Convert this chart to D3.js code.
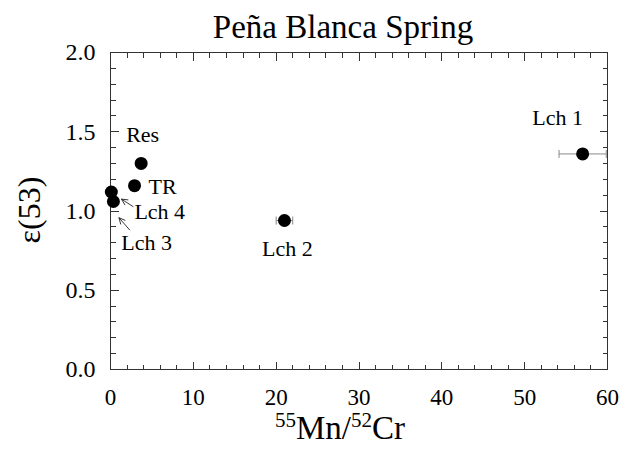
<!DOCTYPE html>
<html>
<head>
<meta charset="utf-8">
<title>Peña Blanca Spring</title>
<script src="https://d3js.org/d3.v7.min.js"></script>
<style>
  body { margin: 0; background: #fff; }
  text { font-family: "Liberation Serif", "Times New Roman", serif; fill: #000; }
  .tick { shape-rendering: crispEdges; }
</style>
</head>
<body>
<svg width="621" height="453"></svg>
<script>

// samples
var names  = ["Lch 3", "Lch 4", "TR", "Res", "Lch 2", "Lch 1"];
var mnCr   = [0.1, 0.35, 2.9, 3.7, 21.0, 57.0];
var eps53  = [1.12, 1.06, 1.16, 1.30, 0.94, 1.36];
var mnCrErr = [0, 0, 0, 0, 1.0, 2.85];

var xTicks = [0, 10, 20, 30, 40, 50, 60];
var yTicks = [0.0, 0.5, 1.0, 1.5, 2.0];

// label placement relative to each point (px)
var labelPos = [
  {dx: 10, dy: 58, anchor: "start", arrow: [18.6, 38.3, 7.6, 25.7]},
  {dx: 21, dy: 18, anchor: "start", arrow: [20, 5.3, 8, -2.4]},
  {dx: 14, dy: 8, anchor: "start"},
  {dx: -15, dy: -21.5, anchor: "start"},
  {dx: 3, dy: 35, anchor: "middle"},
  {dx: -25, dy: -29, anchor: "middle"}
];

var svg = d3.select("svg"),
    margin = {top: 52, right: 14, bottom: 84, left: 110},
    width = +svg.attr("width") - margin.left - margin.right,
    height = +svg.attr("height") - margin.top - margin.bottom;

var x = d3.scaleLinear().domain([0, 60]).range([0, width]);
var y = d3.scaleLinear().domain([0, 2]).range([height, 0]);

var g = svg.append("g")
    .attr("transform", "translate(" + (margin.left + 0.5) + "," + (margin.top + 0.5) + ")");

var axisColor = "#333";

// frame
g.append("rect")
    .attr("class", "tick")
    .attr("width", width)
    .attr("height", height)
    .attr("fill", "none")
    .attr("stroke", axisColor)
    .attr("stroke-width", 1);

// inward ticks on all four sides
var xMinor = d3.range(0, 61, 2), yMinor = d3.range(0, 2.001, 0.1);
function tickLen(v, step) { return Math.abs(v / step - Math.round(v / step)) < 1e-6 ? 8 : 5; }

var ticks = g.append("g")
    .attr("class", "tick")
    .attr("stroke", axisColor)
    .attr("stroke-width", 1);

ticks.selectAll(".xb").data(xMinor).enter().append("line")
    .attr("class", "xb")
    .attr("x1", function(d) { return Math.round(x(d)); }).attr("x2", function(d) { return Math.round(x(d)); })
    .attr("y1", height).attr("y2", function(d) { return height - tickLen(d, 10); });
ticks.selectAll(".xt").data(xMinor).enter().append("line")
    .attr("class", "xt")
    .attr("x1", function(d) { return Math.round(x(d)); }).attr("x2", function(d) { return Math.round(x(d)); })
    .attr("y1", 0).attr("y2", function(d) { return tickLen(d, 10); });
ticks.selectAll(".yl").data(yMinor).enter().append("line")
    .attr("class", "yl")
    .attr("y1", function(d) { return Math.round(y(d)); }).attr("y2", function(d) { return Math.round(y(d)); })
    .attr("x1", 0).attr("x2", function(d) { return tickLen(d, 0.5); });
ticks.selectAll(".yr").data(yMinor).enter().append("line")
    .attr("class", "yr")
    .attr("y1", function(d) { return Math.round(y(d)); }).attr("y2", function(d) { return Math.round(y(d)); })
    .attr("x1", width).attr("x2", function(d) { return width - tickLen(d, 0.5); });

// tick labels
g.append("g").selectAll("text").data(xTicks).enter().append("text")
    .attr("x", function(d) { return x(d); })
    .attr("y", height + 35)
    .attr("text-anchor", "middle")
    .attr("font-size", 23)
    .text(function(d) { return d; });
g.append("g").selectAll("text").data(yTicks).enter().append("text")
    .attr("x", -15)
    .attr("y", function(d) { return y(d); })
    .attr("dy", "0.33em")
    .attr("text-anchor", "end")
    .attr("font-size", 24)
    .text(function(d) { return d.toFixed(1); });

// title and axis titles
svg.append("text")
    .attr("x", 343)
    .attr("y", 38)
    .attr("text-anchor", "middle")
    .attr("font-size", 33)
    .text("Peña Blanca Spring");

var xl = svg.append("text")
    .attr("x", 340)
    .attr("y", 439)
    .attr("text-anchor", "middle")
    .attr("font-size", 33);
xl.append("tspan").attr("font-size", 21).attr("dy", -12).text("55");
xl.append("tspan").attr("dy", 12).text("Mn/");
xl.append("tspan").attr("font-size", 21).attr("dy", -12).text("52");
xl.append("tspan").attr("dy", 12).text("Cr");

svg.append("text")
    .attr("transform", "translate(40,210) rotate(-90)")
    .attr("text-anchor", "middle")
    .attr("font-size", 32)
    .text("ε(53)");

// error bars
var errColor = "#888";
var pts = names.map(function(n, i) {
  return {name: n, x: mnCr[i], y: eps53[i], err: mnCrErr[i], lab: labelPos[i]};
});
var eb = g.append("g").selectAll("g").data(pts.filter(function(d) { return d.err > 0; }))
    .enter().append("g").attr("stroke", errColor).attr("stroke-width", 1);
eb.append("line")
    .attr("x1", function(d) { return x(d.x - d.err); })
    .attr("x2", function(d) { return x(d.x + d.err); })
    .attr("y1", function(d) { return y(d.y); })
    .attr("y2", function(d) { return y(d.y); });
[-1, 1].forEach(function(s) {
  eb.append("line")
      .attr("x1", function(d) { return x(d.x + s * d.err); })
      .attr("x2", function(d) { return x(d.x + s * d.err); })
      .attr("y1", function(d) { return y(d.y) - 4; })
      .attr("y2", function(d) { return y(d.y) + 4; });
});

// points
g.append("g").selectAll("circle").data(pts).enter().append("circle")
    .attr("cx", function(d) { return x(d.x); })
    .attr("cy", function(d) { return y(d.y); })
    .attr("r", 6.5)
    .attr("fill", "#000");

// labels
g.append("g").selectAll("text").data(pts).enter().append("text")
    .attr("x", function(d) { return x(d.x) + d.lab.dx; })
    .attr("y", function(d) { return y(d.y) + d.lab.dy; })
    .attr("text-anchor", function(d) { return d.lab.anchor; })
    .attr("font-size", 22)
    .text(function(d) { return d.name; });

// arrows for the crowded points
g.append("g").selectAll("path").data(pts.filter(function(d) { return d.lab.arrow; }))
    .enter().append("path")
    .attr("d", function(d) {
      var a = d.lab.arrow,
          x0 = x(d.x) + a[0], y0 = y(d.y) + a[1],
          x1 = x(d.x) + a[2], y1 = y(d.y) + a[3],
          ang = Math.atan2(y0 - y1, x0 - x1), L = 7, w = 0.45;
      return "M" + x0 + "," + y0 + "L" + x1 + "," + y1 +
        "M" + (x1 + L * Math.cos(ang - w)) + "," + (y1 + L * Math.sin(ang - w)) +
        "L" + x1 + "," + y1 +
        "L" + (x1 + L * Math.cos(ang + w)) + "," + (y1 + L * Math.sin(ang + w));
    })
    .attr("fill", "none")
    .attr("stroke", "#222")
    .attr("stroke-width", 0.9);

</script>
</body>
</html>
